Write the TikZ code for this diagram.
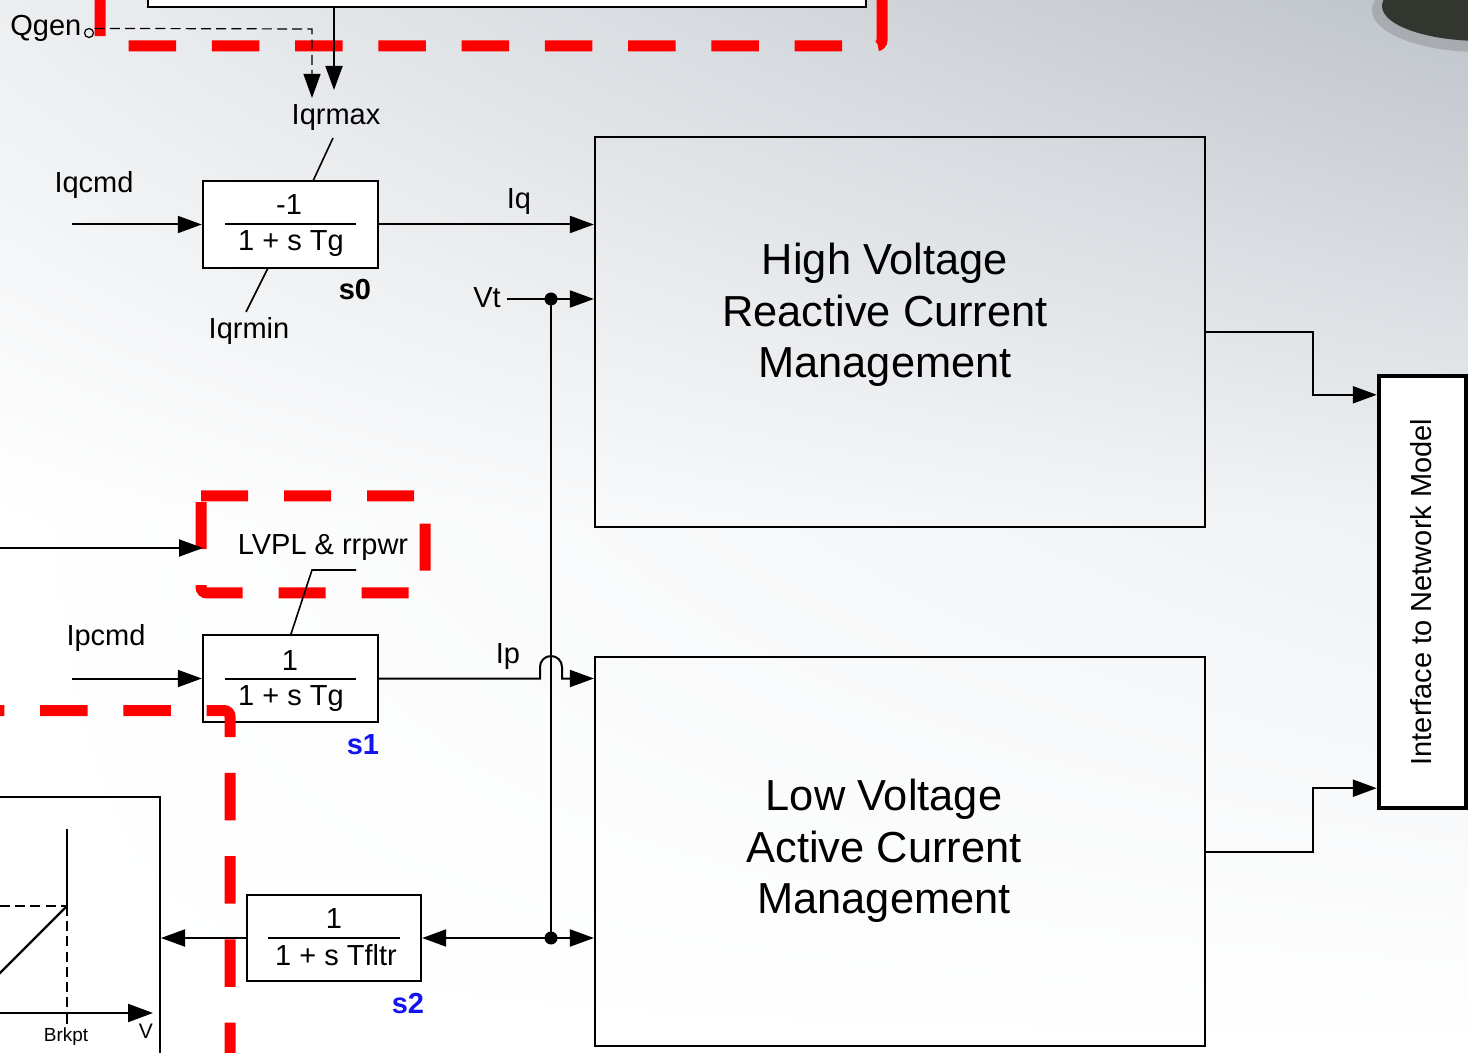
\documentclass[tikz,border=0pt]{standalone}
\usepackage{fontspec}
\setmainfont{Liberation Sans}
\usetikzlibrary{arrows.meta,calc,shadings}
\definecolor{bgtr}{HTML}{BEC3CA}
\definecolor{bgtl}{HTML}{ECEEF0}
\definecolor{bgmr}{HTML}{EFF1F3}
\definecolor{blobdark}{HTML}{33352F}
\definecolor{blobsoft}{HTML}{6A6D6C}
\definecolor{tagblue}{HTML}{1414F0}
\begin{document}
\begin{tikzpicture}[x=0.5pt,y=-0.5pt,
  wire/.style={line width=1pt},
  arr/.style={wire,-{Triangle[length=12pt,width=8.5pt]}},
  thindash/.style={line width=0.6pt,dash pattern=on 5pt off 2.6pt},
  blk/.style={draw,line width=1.2pt,fill=white,inner sep=0pt},
  lbl/.style={font=\fontsize{14.5}{17}\selectfont,inner sep=0pt,anchor=base},
  tag/.style={font=\fontsize{14.5}{17}\selectfont\bfseries,inner sep=0pt,anchor=base},
  small/.style={font=\fontsize{9.5}{11}\selectfont,inner sep=0pt,anchor=base},
  big/.style={font=\fontsize{21.7}{25.75}\selectfont,align=center,inner sep=0pt},
  reddash/.style={red,line width=5.5pt,dash pattern=on 23.75pt off 17.875pt,rounded corners=3pt},
  dotc/.style={circle,fill=black,inner sep=0pt,minimum size=6.5pt},
]
\useasboundingbox (0,0) rectangle (1468,1053);
\clip (0,0) rectangle (1468,1053);
% background
\fill[white] (0,0) rectangle (1468,1053);
\shade[upper left=bgtl,upper right=bgtr,lower left=white,lower right=bgmr] (0,0) rectangle (1468,520);
\shade[upper left=white,upper right=bgmr,lower left=white,lower right=white] (0,520) rectangle (1468,1053);
\fill[blobsoft,opacity=0.3] (1480,10) ellipse [x radius=108, y radius=42];
\fill[blobdark] (1482,6) ellipse [x radius=100, y radius=35];

% top box (only bottom part visible)
\draw[line width=1.2pt,fill=white] (148,-60) rectangle (866,7);

% boxes
\node[blk,minimum width=87.5pt,minimum height=43.5pt] (s0) at (290.5,224.5) {};
\node[blk,minimum width=87.5pt,minimum height=43.5pt] (s1) at (290.5,678.5) {};
\node[blk,minimum width=87pt,minimum height=43pt] (s2) at (334,938) {};
\node[draw,line width=1.1pt,inner sep=0pt,minimum width=305pt,minimum height=195pt] (hv) at (900,332) {};
\node[draw,line width=1.1pt,inner sep=0pt,minimum width=305pt,minimum height=194.5pt] (lv) at (900,851.5) {};
\node[draw,line width=2.2pt,fill=white,inner sep=0pt,minimum width=43.5pt,minimum height=216pt] (intf) at (1422.5,592) {};
% graph box (partly visible)
\draw[line width=1.1pt] (-60,797) -- (160,797) -- (160,1120);

% red dashed boundaries
\draw[reddash,dash phase=22.25pt] (100,-50) -- (100,46) -- (882,46) -- (882,-50);
\draw[reddash,dash phase=38.25pt] (-50,710.5) -- (230,710.5) -- (230,1120);
\draw[reddash,dash pattern=on 23.5pt off 18pt] (201,496) -- (425,496) -- (425,593) -- (201,593) -- (201,496);

% box texts
\node[big] (hvtxt) at (885,315) {High Voltage\\Reactive Current\\Management};
\node[big] (lvtxt) at (884,851) {Low Voltage\\Active Current\\Management};
\node[font=\fontsize{14.5}{17}\selectfont,rotate=90,inner sep=0pt] (intftxt) at (1421,592) {Interface to Network Model};

% fractions
\node[lbl] (s0num) at (289,215) {-1};
\node[lbl] (s0den) at (291,251) {1 + s Tg};
\draw[wire] (225,224.5) -- (356,224.5);
\node[lbl] (s1num) at (290,670) {1};
\node[lbl] (s1den) at (291,705) {1 + s Tg};
\draw[wire] (225,678.5) -- (356,678.5);
\node[lbl] (s2num) at (334,928) {1};
\node[lbl] (s2den) at (336,965) {1 + s Tfltr};
\draw[wire] (268,938) -- (400,938);

% tags
\node[tag] (s0tag) at (355,300) {s0};
\node[tag,text=tagblue] (s1tag) at (363,754) {s1};
\node[tag,text=tagblue] (s2tag) at (408,1013) {s2};

% labels
\node[lbl,anchor=base west] (qgen) at (10,36) {Qgen};
\node[circle,draw,line width=0.6pt,inner sep=0pt,minimum size=4.5pt] (qport) at (89,33) {};
\node[lbl] (iqrmax) at (336,125) {Iqrmax};
\node[lbl] (iqrmin) at (249,339) {Iqrmin};
\node[lbl] (iqcmd) at (94,193) {Iqcmd};
\node[lbl] (iq) at (519,209) {Iq};
\node[lbl] (vt) at (487,308) {Vt};
\node[lbl] (lvpl) at (323,555) {LVPL \& rrpwr};
\node[lbl] (ipcmd) at (106,646) {Ipcmd};
\node[lbl] (ip) at (508,663) {Ip};

% coordinates
\coordinate (topout) at (334,7);
\coordinate (topin) at (334,90);
\coordinate (qin) at (312,98);
\coordinate (iqcmdin) at (72,224.5);
\coordinate (ipcmdin) at (72,678.5);
\coordinate (lvplin) at (0,548);
\coordinate (lvplbox) at (203,548);
\coordinate (vtin) at (507,299);
\coordinate (vtdot) at (551,299);
\coordinate (lvdot) at (551,938);
\coordinate (gin) at (161,938);

% connectors
\draw[arr] (topout) -- (topin);
\draw[thindash,-{Triangle[length=12pt,width=8.5pt]}] (qport.north east) ++(2,-1) -- (312,29) -- (qin);
\draw[arr] (iqcmdin) -- (s0.west);
\draw[arr] (ipcmdin) -- (s1.west);
\draw[arr] (lvplin) -- (lvplbox);
\draw[arr] (s0.east) -- (s0.east -| hv.west);
\draw[arr] (vtin) -- (vtin -| hv.west);
\draw[wire] (vtdot) -- (lvdot);
\node[dotc] (vtdotn) at (vtdot) {};
\node[dotc] (lvdotn) at (lvdot) {};
\draw[arr] (s1.east) -- (540,678.5) -- (540,667) arc (180:360:11) -- (562,678.5) -- (s1.east -| lv.west);
\draw[arr] (lvdot) -- (lvdot -| lv.west);
\draw[arr] (lvdot) -- (s2.east);
\draw[arr] (s2.west) -- (gin);
\draw[arr] (hv.east) -- (1313,332) |- ($(intf.north west)+(0,21)$);
\draw[arr] (lv.east) -- (1313,851.5) |- ($(intf.south west)+(0,-22)$);

% limiter marks
\draw[line width=0.8pt] (333,138) -- (313,181);
\draw[line width=0.8pt] (268,268) -- (246,312);
\draw[line width=0.8pt] (356,570) -- (312,570) -- (291,634);

% graph inside the left box
\draw[line width=1.1pt] (67,829) -- (67,906);
\draw[line width=1.1pt] (67,906) -- (-2,975);
\draw[thindash] (0,906) -- (67,906);
\draw[thindash] (67,906) -- (67,1013);
\draw[line width=1.1pt] (67,1013) -- (67,1024);
\draw[line width=1.1pt,-{Triangle[length=12.5pt,width=9pt]}] (-10,1013) -- (153,1013);
\node[small] (brkpt) at (66,1041) {Brkpt};
\node[small,font=\fontsize{10.5}{12}\selectfont] (vaxis) at (146,1038) {V};
\end{tikzpicture}
\end{document}
